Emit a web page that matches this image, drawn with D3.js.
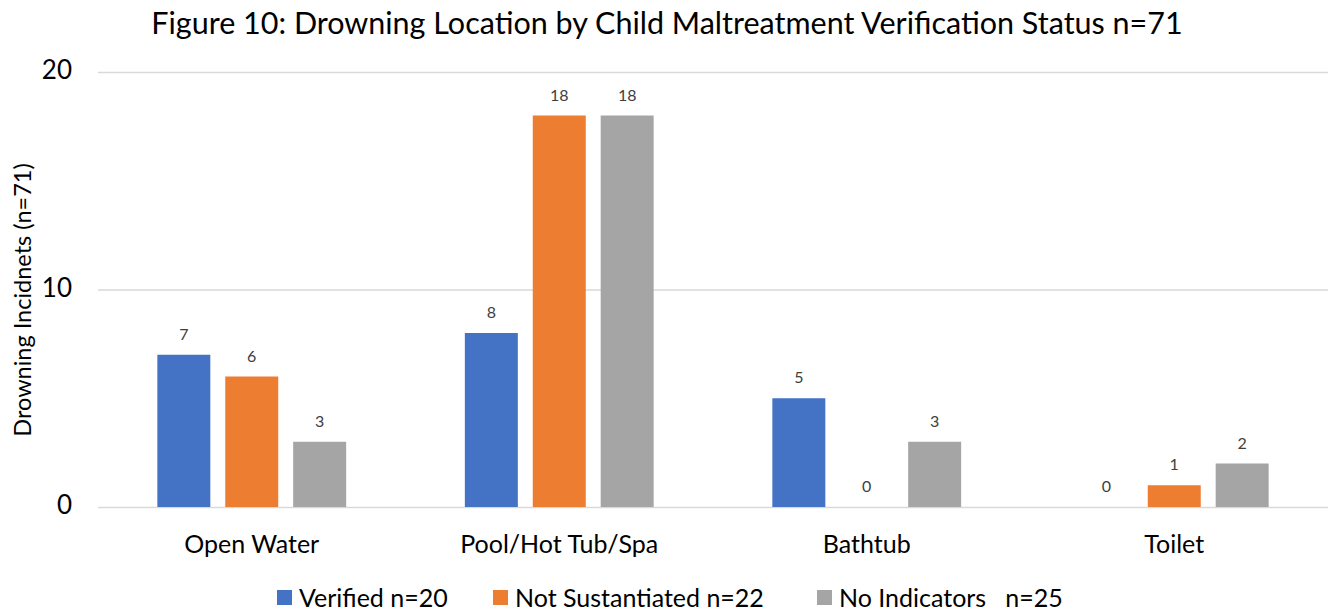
<!DOCTYPE html>
<html>
<head>
<meta charset="utf-8">
<script src="https://cdn.jsdelivr.net/npm/d3@7"></script>
<style>
  body { margin: 0; background: #fff; }
  text { font-family: Lato, "Open Sans", sans-serif; }
</style>
</head>
<body>
<div id="chart"></div>
<script>
const categories = ["Open Water", "Pool/Hot Tub/Spa", "Bathtub", "Toilet"];
const seriesNames = ["Verified n=20", "Not Sustantiated n=22", "No Indicators   n=25"];
const verified = [7, 8, 5, 0];
const notSustantiated = [6, 18, 0, 1];
const noIndicators = [3, 18, 3, 2];
const yTicks = [0, 10, 20];
const colors = ["#4472C4", "#ED7D31", "#A5A5A5"];

const W = 1338, H = 612;
const margin = { top: 72, right: 10, bottom: 105, left: 98 };
const width = W - margin.left - margin.right;
const height = H - margin.top - margin.bottom;

const series = [verified, notSustantiated, noIndicators];

const svg = d3.select("#chart").append("svg")
  .attr("width", W).attr("height", H);

svg.append("text")
  .attr("x", 667).attr("y", 34)
  .attr("text-anchor", "middle")
  .style("font-size", "30.5px")
  .style("fill", "#000")
  .text("Figure 10: Drowning Location by Child Maltreatment Verification Status n=71");

const g = svg.append("g").attr("transform", `translate(${margin.left},${margin.top})`);

const x = d3.scaleBand().domain(categories).range([0, width]).paddingInner(0).paddingOuter(0);
const x1 = d3.scaleBand().domain(d3.range(3)).range([x.bandwidth() * 0.193, x.bandwidth() * 0.807]).paddingInner(0.22).paddingOuter(0);
const y = d3.scaleLinear().domain([0, 20]).range([height, 0]);

// gridlines
g.append("g")
  .call(d3.axisLeft(y).tickValues(yTicks).tickSize(-width).tickFormat(""))
  .call(s => s.select(".domain").remove())
  .selectAll(".tick line").attr("stroke", "#D9D9D9").attr("stroke-width", 1.5);

// y tick labels
g.append("g")
  .selectAll("text").data(yTicks).join("text")
  .attr("x", -26).attr("y", d => y(d)).attr("dy", "0.28em")
  .attr("text-anchor", "end")
  .style("font-size", "26px").style("fill", "#000")
  .text(d => d);

// bars
const groups = g.selectAll(".grp").data(categories).join("g")
  .attr("class", "grp")
  .attr("transform", d => `translate(${x(d)},0)`);

groups.each(function(cat, ci) {
  const sel = d3.select(this);
  series.forEach((vals, si) => {
    const v = vals[ci];
    sel.append("rect")
      .attr("x", x1(si)).attr("width", x1.bandwidth())
      .attr("y", y(v)).attr("height", y(0) - y(v))
      .attr("fill", colors[si]);
    sel.append("text")
      .attr("x", x1(si) + x1.bandwidth() / 2)
      .attr("y", y(v) - 15)
      .attr("text-anchor", "middle")
      .style("font-size", "16px").style("fill", "#404040")
      .text(v);
  });
});

// category labels
g.append("g")
  .selectAll("text").data(categories).join("text")
  .attr("x", d => x(d) + x.bandwidth() / 2)
  .attr("y", height + 46)
  .attr("text-anchor", "middle")
  .style("font-size", "25px").style("fill", "#000")
  .text(d => d);

// y axis title
svg.append("text")
  .attr("transform", `translate(31,300) rotate(-90)`)
  .attr("text-anchor", "middle")
  .style("font-size", "23.5px").style("fill", "#000")
  .text("Drowning Incidnets (n=71)");

// legend
const legendX = [277, 493, 817];
const legend = svg.append("g");
seriesNames.forEach((name, i) => {
  legend.append("rect")
    .attr("x", legendX[i]).attr("y", 590).attr("width", 15).attr("height", 15)
    .attr("fill", colors[i]);
  legend.append("text")
    .attr("x", legendX[i] + 22).attr("y", 607)
    .attr("xml:space", "preserve")
    .style("white-space", "pre")
    .style("font-size", "25px").style("fill", "#000")
    .text(name);
});
</script>
</body>
</html>
